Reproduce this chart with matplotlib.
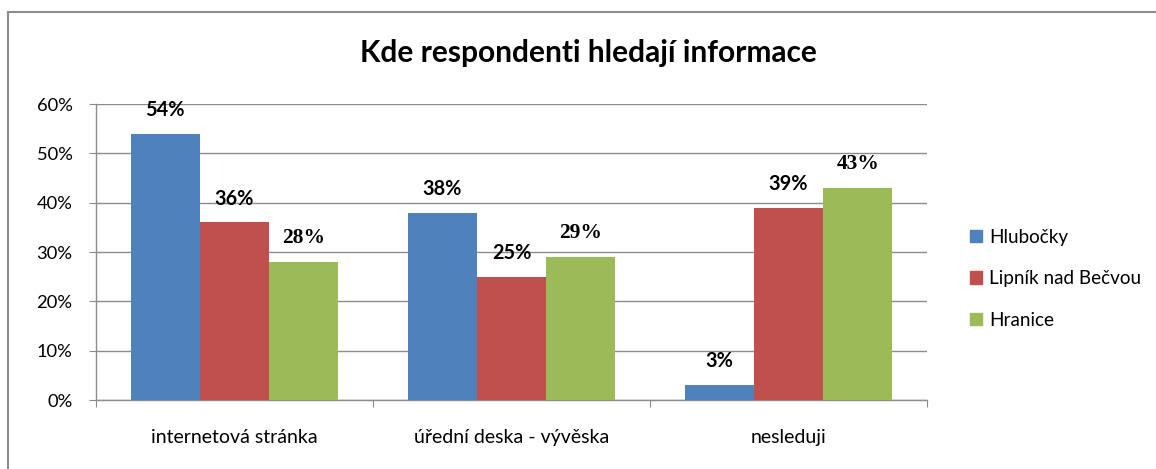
import matplotlib
matplotlib.use("Agg")
import matplotlib.pyplot as plt
from matplotlib.lines import Line2D
from matplotlib.ticker import FuncFormatter
import numpy as np

categories = ["internetová stránka", "úřední deska - vývěska", "nesleduji"]
series_names = ["Hlubočky", "Lipník nad Bečvou", "Hranice"]
hlubocky = [54, 38, 3]
lipnik = [36, 25, 39]
hranice = [28, 29, 43]
y_ticks = [0, 10, 20, 30, 40, 50, 60]

series = [hlubocky, lipnik, hranice]
colors = ["#4F81BD", "#C0504D", "#9BBB59"]
label_fonts = [["Lato", "DejaVu Sans"], ["Lato", "DejaVu Sans"], ["Liberation Serif", "DejaVu Serif"]]
label_sizes = [14.3, 14.3, 15.5]

plt.rcParams['font.family'] = ['Lato', 'DejaVu Sans']

fig = plt.figure(figsize=(11.56, 4.69), dpi=100)
W, H = 1156, 469
ax = fig.add_axes([96 / W, 69 / H, (927 - 96) / W, (400 - 104) / H])

x = np.arange(len(categories))
bw = 0.25
for i, (vals, col) in enumerate(zip(series, colors)):
    pos = x + (i - 1) * bw
    ax.bar(pos, vals, width=bw, color=col, edgecolor="none", zorder=3, label=series_names[i])
    for p, v in zip(pos, vals):
        ax.annotate(f"{v}%", (p, v), xytext=(0, 10), textcoords="offset points",
                    ha="center", va="bottom", fontsize=label_sizes[i], fontweight="bold",
                    family=label_fonts[i], color="black")

ax.set_xlim(-0.5, 2.5)
ax.set_ylim(0, 60)
ax.set_yticks(y_ticks)
ax.yaxis.set_major_formatter(FuncFormatter(lambda v, _: f"{int(v)}%"))
ax.grid(axis="y", color="#8C8C8C", linewidth=1.0, zorder=0)
ax.set_axisbelow(True)

ax.set_xticks([-0.5, 0.5, 1.5, 2.5])
ax.set_xticklabels([])
ax.set_xticks(x, minor=True)
ax.set_xticklabels(categories, minor=True)
ax.tick_params(axis="x", which="major", length=5, color="#8C8C8C", direction="out")
ax.tick_params(axis="x", which="minor", length=0, pad=21, labelsize=14)
ax.tick_params(axis="y", length=5, color="#8C8C8C", pad=12, labelsize=13.2)

for s in ["top", "right"]:
    ax.spines[s].set_visible(False)
for s in ["left", "bottom"]:
    ax.spines[s].set_color("#8C8C8C")
    ax.spines[s].set_linewidth(1.0)

fig.text(588 / W, 1 - 53 / H, "Kde respondenti hledají informace", ha="center", va="center",
         fontsize=21.5, fontweight="bold")

handles = [plt.Rectangle((0, 0), 1, 1, color=c) for c in colors]
fig.legend(handles, series_names, loc="upper left", bbox_to_anchor=(962 / W, 1 - 221 / H),
           frameon=False, fontsize=13.6, handlelength=0.65, handleheight=0.65,
           handletextpad=0.4, labelspacing=1.3, borderaxespad=0)

# outer border (top and left visible)
fig.add_artist(Line2D([8 / W, 1.0], [1 - 12 / H, 1 - 12 / H], transform=fig.transFigure,
                      color="#8C8C8C", linewidth=1.5))
fig.add_artist(Line2D([8 / W, 8 / W], [0, 1 - 12 / H], transform=fig.transFigure,
                      color="#8C8C8C", linewidth=1.5))

fig.savefig("out.png", dpi=100, facecolor="white")
